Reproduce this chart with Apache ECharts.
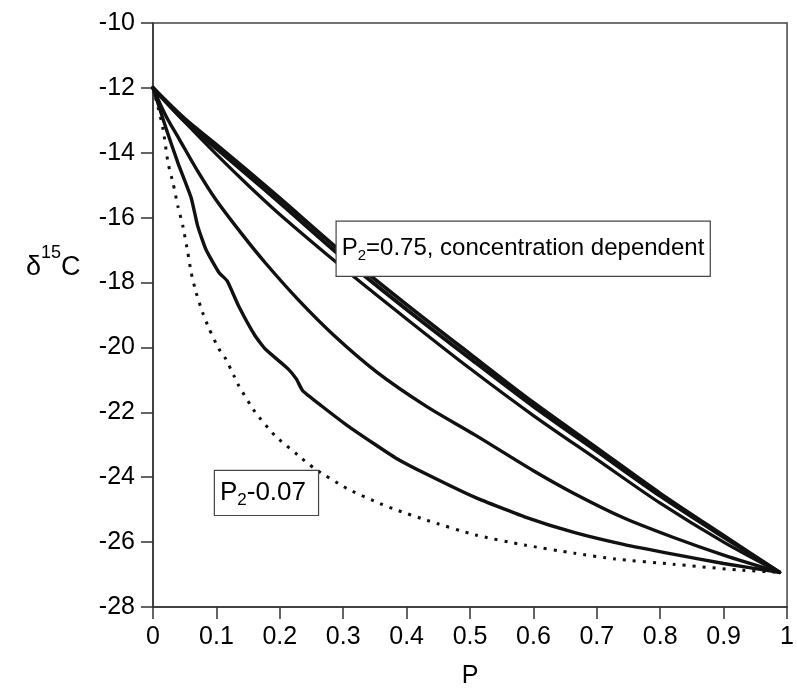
<!DOCTYPE html>
<html>
<head>
<meta charset="utf-8">
<script src="https://cdn.jsdelivr.net/npm/echarts@6/dist/echarts.min.js"></script>
<style>
html,body{margin:0;padding:0;background:#fff;}
#chart{width:797px;height:694px;}
</style>
</head>
<body>
<div id="chart"></div>
<script>
// ---- data ----
const xTickLabels = ['0','0.1','0.2','0.3','0.4','0.5','0.6','0.7','0.8','0.9','1'];
const yTickLabels = ['-28','-26','-24','-22','-20','-18','-16','-14','-12','-10'];

// P2 = 0.75, concentration dependent (thick bundle of two near-identical runs)
const bundleA = [[0,-12],[0.05,-12.95],[0.1,-13.75],[0.15,-14.57],[0.2,-15.4],[0.3,-17.1],[0.4,-18.68],[0.5,-20.2],[0.6,-21.7],[0.7,-23.1],[0.8,-24.5],[0.9,-25.8],[0.988,-26.93]];
const bundleB = [[0,-12],[0.05,-13.03],[0.1,-13.87],[0.15,-14.7],[0.2,-15.54],[0.3,-17.25],[0.4,-18.83],[0.5,-20.34],[0.6,-21.82],[0.7,-23.2],[0.8,-24.58],[0.9,-25.85],[0.988,-26.93]];
// thin line just below the bundle
const lineC = [[0,-12],[0.05,-13.05],[0.1,-14.05],[0.15,-15.0],[0.2,-15.9],[0.3,-17.55],[0.4,-19.12],[0.5,-20.65],[0.6,-22.1],[0.7,-23.45],[0.8,-24.8],[0.9,-26.0],[0.988,-26.93]];
// middle curve
const lineD = [[0,-12],[0.02,-12.85],[0.042,-13.6],[0.07,-14.55],[0.099,-15.44],[0.14,-16.5],[0.177,-17.39],[0.23,-18.55],[0.286,-19.64],[0.353,-20.76],[0.43,-21.8],[0.509,-22.71],[0.6,-23.8],[0.664,-24.5],[0.742,-25.25],[0.82,-25.85],[0.9,-26.4],[0.988,-26.93]];
// lower, irregular curve
const lineE = [[0,-12],[0.0213,-13.29],[0.04,-14.35],[0.0602,-15.39],[0.0705,-16.26],[0.0835,-16.98],[0.104,-17.69],[0.117,-17.95],[0.135,-18.72],[0.161,-19.64],[0.177,-20.05],[0.213,-20.66],[0.226,-20.97],[0.236,-21.33],[0.265,-21.79],[0.306,-22.4],[0.348,-22.96],[0.384,-23.42],[0.431,-23.9],[0.509,-24.63],[0.586,-25.22],[0.664,-25.7],[0.742,-26.07],[0.82,-26.37],[0.9,-26.66],[0.988,-26.93]];
// P2 = 0.07 (dotted)
const lineF = [[0,-12],[0.008,-12.6],[0.016,-13.29],[0.0238,-14.32],[0.0316,-14.93],[0.0393,-15.65],[0.0471,-16.26],[0.0549,-17.08],[0.0602,-17.69],[0.068,-18.31],[0.0782,-18.92],[0.0886,-19.43],[0.104,-20.05],[0.1146,-20.35],[0.1275,-20.87],[0.135,-21.17],[0.161,-21.99],[0.192,-22.71],[0.2286,-23.32],[0.2546,-23.73],[0.306,-24.35],[0.358,-24.81],[0.384,-25.01],[0.431,-25.32],[0.5086,-25.78],[0.586,-26.09],[0.664,-26.34],[0.729,-26.52],[0.82,-26.68],[0.923,-26.86],[0.988,-26.93]];

// annotation anchors (top-left corner of each box, data coordinates)
const noteHigh = [0.2905,-16.14];
const noteLow = [0.0985,-23.82];

const FONT = "'Liberation Sans', Arial, Helvetica, sans-serif";
const INK = '#111111';

const chart = echarts.init(document.getElementById('chart'), null, {renderer:'canvas'});

function lineSeries(data, width, smooth, dashed){
  return {
    type:'line', data:data, showSymbol:false, symbol:'none', smooth:smooth, silent:true,
    lineStyle:{color:INK, width:width, opacity:1, type: dashed ? [3,7] : 'solid', cap: dashed ? 'butt':'round', join:'round'},
    z:2
  };
}

const subRich = {
  p:{fontFamily:FONT, fontSize:24, color:'#000', lineHeight:42},
  sub:{fontFamily:FONT, fontSize:15, color:'#000', lineHeight:42, padding:[15,0,0,0]},
  p2:{fontFamily:FONT, fontSize:26, color:'#000', lineHeight:36},
  sub2:{fontFamily:FONT, fontSize:17, color:'#000', lineHeight:36, padding:[15,0,0,0]}
};

const option = {
  backgroundColor:'#ffffff',
  animation:false,
  grid:{left:153, right:1, top:23, bottom:85, show:true, borderColor:'#444', borderWidth:1.5},
  xAxis:{
    type:'value', min:0, max:1, interval:0.1,
    name:'P', nameLocation:'middle', nameGap:57,
    nameTextStyle:{fontFamily:FONT, fontSize:25, color:'#000'},
    axisLine:{show:true, onZero:false, lineStyle:{color:'#333', width:1.5}},
    axisTick:{show:true, length:12, lineStyle:{color:'#333', width:1.5}},
    splitLine:{show:false},
    axisLabel:{fontFamily:FONT, fontSize:25, color:'#000', margin:18,
      formatter:function(v){return xTickLabels[Math.round(v*10)];}}
  },
  yAxis:{
    type:'value', min:-28, max:-10, interval:2,
    axisLine:{show:true, onZero:false, lineStyle:{color:'#333', width:1.5}},
    axisTick:{show:true, length:12, lineStyle:{color:'#333', width:1.5}},
    splitLine:{show:false},
    axisLabel:{fontFamily:FONT, fontSize:25, color:'#000', margin:18,
      formatter:function(v){return yTickLabels[Math.round((v+28)/2)];}}
  },
  graphic:[{
    type:'text', left:26, top:244, z:20,
    style:{
      text:'{d|δ}{s|15}{c|C}',
      rich:{
        d:{fontFamily:FONT, fontSize:27, fill:'#000', lineHeight:42, verticalAlign:'bottom'},
        s:{fontFamily:FONT, fontSize:18, fill:'#000', lineHeight:42, padding:[0,0,15,0]},
        c:{fontFamily:FONT, fontSize:27, fill:'#000', lineHeight:42, verticalAlign:'bottom'}
      }
    }
  }],
  series:[
    lineSeries(bundleA, 3.8, 0.3, false),
    lineSeries(bundleB, 3.8, 0.3, false),
    lineSeries(lineC, 3.2, 0.3, false),
    lineSeries(lineD, 3.4, 0.3, false),
    lineSeries(lineE, 3.4, 0.15, false),
    lineSeries(lineF, 3, 0.2, true),
    {
      type:'scatter', z:10, zlevel:0, silent:true, symbolSize:1,
      itemStyle:{color:'#ffffff', opacity:1},
      data:[
        {value:noteHigh, label:{show:true, opacity:1, position:[0,0], align:'left', verticalAlign:'top',
          backgroundColor:'#fff', borderColor:'#444', borderWidth:1.2, padding:[6,4,6,5],
          width:364, height:42,
          formatter:'{p|P}{sub|2}{p|=0.75, concentration dependent}', rich:subRich}},
        {value:noteLow, label:{show:true, opacity:1, position:[0,0], align:'left', verticalAlign:'top',
          backgroundColor:'#fff', borderColor:'#444', borderWidth:1.2, padding:[4,5,4,5],
          width:93, height:36,
          formatter:'{p2|P}{sub2|2}{p2|-0.07}', rich:subRich}}
      ]
    }
  ]
};
chart.setOption(option);
</script>
</body>
</html>
